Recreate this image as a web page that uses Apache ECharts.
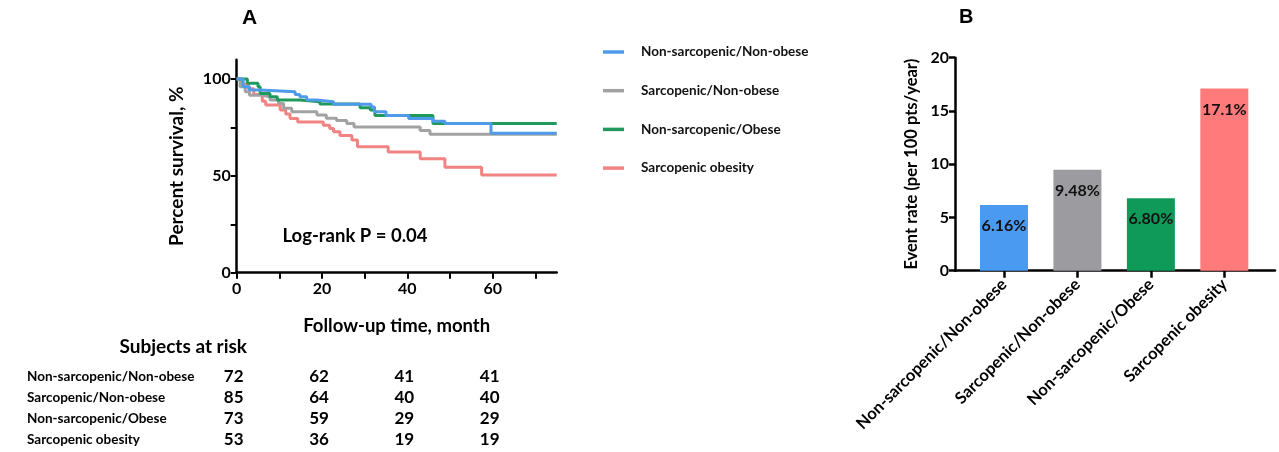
<!DOCTYPE html>
<html><head><meta charset="utf-8">
<script src="https://cdn.jsdelivr.net/npm/echarts@6/dist/echarts.min.js"></script>
<style>html,body{margin:0;padding:0;background:#fff;}#c{width:1279px;height:452px;}</style>
</head><body><div id="c"></div>
<script>
// ---- data ----
const groupNames = ['Non-sarcopenic/Non-obese', 'Sarcopenic/Non-obese', 'Non-sarcopenic/Obese', 'Sarcopenic obesity'];
const survBlue = [[0,100],[1.5,96],[3,94.3],[5.5,93.5],[13.7,92],[14.8,90.9],[16.4,89.2],[18.7,88.3],[22.7,87],[31.5,85.6],[32.3,83.1],[35,81.2],[40.3,79.6],[46,78.2],[48.8,77],[59.6,72],[75,72]];
const survGray = [[0,100],[0.8,96],[2,93.5],[3,91.7],[5.5,90.9],[7.8,89.2],[9.8,87.4],[11,84.9],[12.9,83.1],[18.8,81.4],[21,79.7],[23.4,78.6],[25.8,77],[27.5,75.3],[43,73.4],[45.3,71.5],[75,71.5]];
const survGreen = [[0,100],[2.5,97.8],[5,96],[5.5,92.6],[7.8,90.9],[9.5,89.2],[14.8,88.3],[19.5,87.1],[28.9,85.2],[31.3,84],[32.4,81.2],[46,77.1],[75,77.1]];
const survRed = [[0,100],[1,97.5],[2.7,95],[4,92],[6,88.5],[6.8,86.6],[10.2,84],[11.5,82],[12.5,79.6],[14.3,77.8],[20.3,76.2],[21.8,74.5],[22.7,72.8],[24.2,70.8],[27,68.5],[28.3,65],[35.5,62.3],[43,58.8],[48.8,54.5],[57.4,50.5],[75,50.5]];
const xTicksA = [0,10,20,30,40,50,60,70];
const xLabelsA = [0,20,40,60];
const yTicksA = [0,25,50,75,100];
const yLabelsA = [0,50,100];
const riskTitle = 'Subjects at risk';
const riskTimes = [0,20,40,60];
const riskCounts = [
  [72,62,41,41],
  [85,64,40,40],
  [73,59,29,29],
  [53,36,19,19]
];
const logRankText = 'Log-rank P = 0.04';
const eventRates = [6.16, 9.48, 6.80, 17.1];
const eventLabels = ['6.16%', '9.48%', '6.80%', '17.1%'];
// ---- styles ----
const lineColors = ['#4f9be9', '#a2a2a2', '#1f9a5c', '#f28383'];
const barColors = ['#4b9af2', '#9c9ca0', '#0f9a5a', '#ff7b7b'];
const FONT = 'Lato, "Open Sans", sans-serif';

const chart = echarts.init(document.getElementById('c'), null, {renderer:'canvas'});
const axisLineStyle = {color:'#000', width:2.5};
const survData = [survBlue, survGray, survGreen, survRed];
const zs = [6,4,5,3];

const option = {
  animation:false,
  textStyle:{fontFamily:FONT},
  grid:[
    {left:236.7, top:59.7, width:320, height:213},
    {left:955, top:57.7, width:320, height:213}
  ],
  legend:{
    data:groupNames, orient:'vertical', left:598, top:39,
    icon:'rect', itemWidth:21, itemHeight:3.5, itemGap:22.7,
    textStyle:{fontFamily:FONT, fontWeight:'bold', fontSize:13.5, color:'#111', lineHeight:16, padding:[0,0,0,12]},
    selectedMode:false
  },
  xAxis:[
    {gridIndex:0, type:'value', min:0, max:75,
     name:'Follow-up time, month', nameLocation:'middle', nameGap:44,
     nameTextStyle:{fontFamily:FONT, fontWeight:'bold', fontSize:18.5, color:'#000'},
     axisLine:{show:true, onZero:false, lineStyle:axisLineStyle},
     axisTick:{show:true, inside:false, length:6, lineStyle:{color:'#000', width:2}, customValues:xTicksA},
     axisLabel:{customValues:xLabelsA, fontFamily:FONT, fontWeight:'bold', fontSize:16, color:'#000', margin:8},
     splitLine:{show:false}},
    {gridIndex:1, type:'value', min:-0.667, max:3.69,
     axisLine:{show:true, onZero:false, lineStyle:axisLineStyle},
     axisTick:{show:true, inside:false, length:7, lineStyle:{color:'#000', width:2.5}, customValues:[0,1,2,3]},
     axisLabel:{customValues:[0,1,2,3], rotate:45, fontFamily:FONT, fontWeight:'bold', fontSize:16.5, color:'#000', margin:11,
       formatter:function(v){return groupNames[Math.round(v)] || '';}},
     splitLine:{show:false}}
  ],
  yAxis:[
    {gridIndex:0, type:'value', min:0, max:110,
     name:'Percent survival, %', nameLocation:'middle', nameGap:50, nameRotate:90,
     nameTextStyle:{fontFamily:FONT, fontWeight:'bold', fontSize:19, color:'#000'},
     axisLine:{show:true, onZero:false, lineStyle:axisLineStyle},
     axisTick:{show:true, inside:false, length:6, lineStyle:{color:'#000', width:2}, customValues:yTicksA},
     axisLabel:{customValues:yLabelsA, fontFamily:FONT, fontWeight:'bold', fontSize:16, color:'#000', margin:6},
     splitLine:{show:false}},
    {gridIndex:1, type:'value', min:0, max:20, interval:5,
     name:'Event rate (per 100 pts/year)', nameLocation:'middle', nameGap:35, nameRotate:90,
     nameTextStyle:{fontFamily:FONT, fontWeight:'bold', fontSize:16.5, color:'#000'},
     axisLine:{show:true, onZero:false, lineStyle:axisLineStyle},
     axisTick:{show:true, inside:false, length:6, lineStyle:{color:'#000', width:2.5}},
     axisLabel:{fontFamily:FONT, fontWeight:'bold', fontSize:16, color:'#000', margin:6},
     splitLine:{show:false}}
  ],
  series: groupNames.map(function(n,i){
    return {name:n, type:'line', xAxisIndex:0, yAxisIndex:0, step:'end', showSymbol:false, symbol:'none',
      data:survData[i], color:lineColors[i], z:zs[i], lineStyle:{width:3, color:lineColors[i]}};
  }).concat([{
    type:'bar', xAxisIndex:1, yAxisIndex:1, barWidth:48,
    data:eventRates.map(function(v,i){return {value:[i,v], itemStyle:{color:barColors[i]}, label:{formatter:eventLabels[i]}};}),
    label:{show:true, position:'insideTop', distance:13, fontFamily:FONT, fontWeight:'bold', fontSize:16, color:'#111'}
  }])
};
chart.setOption(option);

// graphic texts (titles, log-rank, risk table)
const g = [];
g.push({type:'text', left:242, top:8, style:{text:'A', font:'bold 21px Arial, "Liberation Sans", sans-serif', fill:'#000'}});
g.push({type:'text', left:959, top:7, style:{text:'B', font:'bold 20px Arial, "Liberation Sans", sans-serif', fill:'#000'}});
g.push({type:'text', x:355, y:236, style:{text:logRankText, font:'bold 18.5px '+FONT, fill:'#000', align:'center', verticalAlign:'middle'}});
g.push({type:'text', x:247, y:347, style:{text:riskTitle, font:'bold 19px '+FONT, fill:'#000', align:'right', verticalAlign:'middle'}});
const rowY = [376.5, 397.5, 418.5, 439.5];
groupNames.forEach(function(n,r){
  g.push({type:'text', x:27, y:rowY[r], style:{text:n, font:'bold 13.5px '+FONT, fill:'#000', align:'left', verticalAlign:'middle'}});
  riskTimes.forEach(function(t,c){
    const px = chart.convertToPixel({xAxisIndex:0}, t) - 3;
    g.push({type:'text', x:px, y:rowY[r], style:{text:String(riskCounts[r][c]), font:'bold 17px '+FONT, fill:'#000', align:'center', verticalAlign:'middle'}});
  });
});
chart.setOption({graphic:g});
</script></body></html>
